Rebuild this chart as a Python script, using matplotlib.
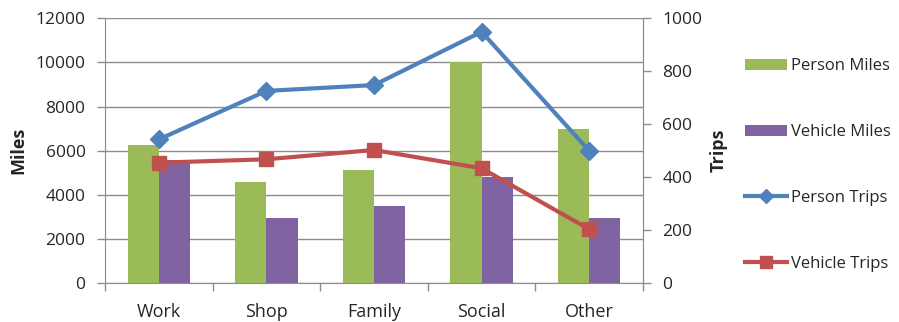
import matplotlib
matplotlib.use("Agg")
import matplotlib.pyplot as plt
import numpy as np
from matplotlib.lines import Line2D
from matplotlib.patches import Patch

categories = ["Work", "Shop", "Family", "Social", "Other"]
person_miles = [6250, 4590, 5120, 10000, 7000]
vehicle_miles = [5580, 2940, 3500, 4830, 2970]
person_trips = [543, 726, 748, 949, 500]
vehicle_trips = [455, 468, 503, 434, 204]
left_ticks = [0, 2000, 4000, 6000, 8000, 10000, 12000]
right_ticks = [0, 200, 400, 600, 800, 1000]

plt.rcParams['font.family'] = ['Open Sans', 'DejaVu Sans']

fig = plt.figure(figsize=(8.99, 3.22), dpi=100)
L, R, T, B = 105, 643, 18.3, 283.3
ax = fig.add_axes([L/899, 1-B/322, (R-L)/899, (B-T)/322])
x = np.arange(len(categories))
w = 0.29
green = "#9BBB59"; purple = "#8064A2"; blue = "#4F81BD"; red = "#C0504D"
grid_c = "#8C8C8C"
txt_c = "#262626"

ax.bar(x - w/2, person_miles, w, color=green, zorder=2)
ax.bar(x + w/2, vehicle_miles, w, color=purple, zorder=2)
ax.set_xlim(-0.5, 4.5)
ax.set_ylim(0, 12000)
ax.set_yticks(left_ticks)
ax.set_yticklabels([str(t) for t in left_ticks], fontsize=12.5, color=txt_c)
ax.yaxis.grid(True, color=grid_c, linewidth=1.0, zorder=0)
ax.set_axisbelow(True)
ax.set_xticks(x)
ax.set_xticklabels(categories, fontsize=13, color=txt_c)
ax.tick_params(axis='x', length=0, pad=14)
ax.set_xticks(np.arange(-0.5, 4.6, 1), minor=True)
ax.tick_params(axis='x', which='minor', length=6, color=grid_c, width=1)
ax.tick_params(axis='y', length=6, color=grid_c, width=1, pad=8)
ax.spines['top'].set_visible(False)
for s in ['left', 'bottom', 'right']:
    ax.spines[s].set_color(grid_c)
ax.set_ylabel("Miles", fontsize=13, fontweight='bold', color=txt_c)
ax.yaxis.set_label_coords((27 - L) / (R - L), 0.5)

ax2 = ax.twinx()
ax2.plot(x, person_trips, color=blue, linewidth=3, marker='D', markersize=9, zorder=3)
ax2.plot(x, vehicle_trips, color=red, linewidth=3, marker='s', markersize=10, zorder=3)
ax2.set_ylim(0, 1000)
ax2.set_yticks(right_ticks)
ax2.set_yticklabels([str(t) for t in right_ticks], fontsize=12.5, color=txt_c)
ax2.tick_params(axis='y', length=6, color=grid_c, width=1, pad=8)
for s in ['top', 'left', 'bottom']:
    ax2.spines[s].set_visible(False)
ax2.spines['right'].set_color(grid_c)
ax2.set_ylabel("Trips", fontsize=13, fontweight='bold', color=txt_c)
ax2.yaxis.set_label_coords((710 - L) / (R - L), 0.5)

handles = [
    Patch(facecolor=green, label="Person Miles"),
    Patch(facecolor=purple, label="Vehicle Miles"),
    Line2D([0], [0], color=blue, linewidth=3, marker='D', markersize=7, label="Person Trips"),
    Line2D([0], [0], color=red, linewidth=3, marker='s', markersize=8, label="Vehicle Trips"),
]
leg = fig.legend(handles=handles, loc='upper left', bbox_to_anchor=(745/899, 1-58/322),
                 frameon=False, fontsize=12, labelspacing=3.0, handlelength=2.5,
                 handletextpad=0.25, handleheight=0.65, borderpad=0, borderaxespad=0)
for t in leg.get_texts():
    t.set_color(txt_c)

fig.savefig("out.png", dpi=100)
